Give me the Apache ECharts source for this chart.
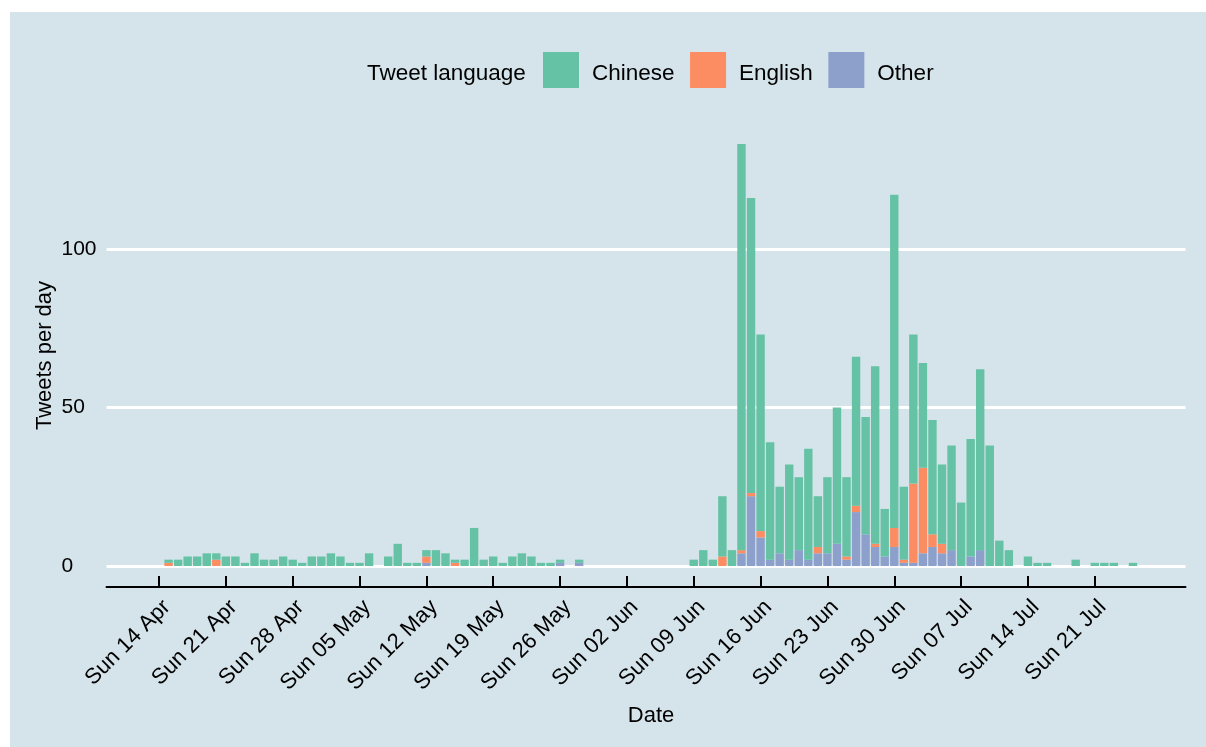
<!DOCTYPE html>
<html>
<head>
<meta charset="utf-8">
<script src="https://cdn.jsdelivr.net/npm/echarts@6/dist/echarts.min.js"></script>
<style>
  html, body { margin: 0; padding: 0; background: #ffffff; }
  #chart { position: absolute; left: 10px; top: 12px; width: 1196px; height: 735px; }
</style>
</head>
<body>
<div id="chart"></div>
<script>
// Daily counts from Sun 14 Apr 2019 (index 0) to Thu 25 Jul 2019 (index 102)
const chinese = [
  0, 1, 2, 3, 3, 4, 2, 3, 3, 1,
  4, 2, 2, 3, 2, 1, 3, 3, 4, 3,
  1, 1, 4, 0, 3, 7, 1, 1, 2, 5,
  4, 1, 2, 12, 2, 3, 1, 3, 4, 3,
  1, 1, 1, 0, 1, 0, 0, 0, 0, 0,
  0, 0, 0, 0, 0, 0, 2, 5, 2, 19,
  5, 128, 93, 62, 37, 21, 30, 23, 35, 16,
  24, 43, 25, 47, 37, 56, 15, 105, 23, 47,
  33, 36, 25, 33, 20, 37, 57, 38, 8, 5,
  0, 3, 1, 1, 0, 0, 2, 0, 1, 1,
  1, 0, 1
];
const english = [
  0, 1, 0, 0, 0, 0, 2, 0, 0, 0,
  0, 0, 0, 0, 0, 0, 0, 0, 0, 0,
  0, 0, 0, 0, 0, 0, 0, 0, 2, 0,
  0, 1, 0, 0, 0, 0, 0, 0, 0, 0,
  0, 0, 0, 0, 0, 0, 0, 0, 0, 0,
  0, 0, 0, 0, 0, 0, 0, 0, 0, 3,
  0, 1, 1, 2, 0, 0, 0, 0, 0, 2,
  0, 0, 1, 2, 0, 1, 0, 6, 1, 25,
  27, 4, 3, 0, 0, 0, 0, 0, 0, 0,
  0, 0, 0, 0, 0, 0, 0, 0, 0, 0,
  0, 0, 0
];
const other = [
  0, 0, 0, 0, 0, 0, 0, 0, 0, 0,
  0, 0, 0, 0, 0, 0, 0, 0, 0, 0,
  0, 0, 0, 0, 0, 0, 0, 0, 1, 0,
  0, 0, 0, 0, 0, 0, 0, 0, 0, 0,
  0, 0, 1, 0, 1, 0, 0, 0, 0, 0,
  0, 0, 0, 0, 0, 0, 0, 0, 0, 0,
  0, 4, 22, 9, 2, 4, 2, 5, 2, 4,
  4, 7, 2, 17, 10, 6, 3, 6, 1, 1,
  4, 6, 4, 5, 0, 3, 5, 0, 0, 0,
  0, 0, 0, 0, 0, 0, 0, 0, 0, 0,
  0, 0, 0
];
const tickLabels = [
  'Sun 14 Apr', 'Sun 21 Apr', 'Sun 28 Apr', 'Sun 05 May', 'Sun 12 May',
  'Sun 19 May', 'Sun 26 May', 'Sun 02 Jun', 'Sun 09 Jun', 'Sun 16 Jun',
  'Sun 23 Jun', 'Sun 30 Jun', 'Sun 07 Jul', 'Sun 14 Jul', 'Sun 21 Jul'
];
const yTicks = [0, 50, 100];
const legendNames = ['Chinese', 'English', 'Other'];

// axis padding (empty days on each side of the data range)
const padBefore = 5, padAfter = 5;
const nDays = chinese.length + padBefore + padAfter;
const start = new Date(Date.UTC(2019, 3, 14 - padBefore));
const categories = [];
for (let i = 0; i < nDays; i++) {
  const d = new Date(start.getTime() + i * 86400000);
  categories.push(d.toISOString().slice(0, 10));
}
function pad(arr) {
  const out = [];
  for (let i = 0; i < padBefore; i++) out.push('-');
  arr.forEach(v => out.push(v === 0 ? '-' : v));
  for (let i = 0; i < padAfter; i++) out.push('-');
  return out;
}
function isTick(index) {
  const d = index - padBefore;
  return d >= 0 && d % 7 === 0 && d / 7 < tickLabels.length;
}

const FONT = "'Liberation Sans', Arial, Helvetica, sans-serif";
const chart = echarts.init(document.getElementById('chart'), null, { renderer: 'canvas' });
chart.setOption({
  backgroundColor: '#d5e4eb',
  animation: false,
  title: {
    text: 'Tweet language',
    left: 357, top: 49, padding: 0,
    textStyle: { fontFamily: FONT, fontSize: 22.5, fontWeight: 'normal', color: '#000', lineHeight: 26 }
  },
  legend: {
    data: legendNames,
    left: 533, top: 40, padding: 0,
    itemWidth: 36, itemHeight: 36, itemGap: 15.5,
    icon: 'rect',
    formatter: '{n|{name}}',
    textStyle: {
      fontFamily: FONT, fontSize: 22.5, color: '#000',
      rich: { n: { fontFamily: FONT, fontSize: 22.5, color: '#000', padding: [8, 0, 0, 8] } }
    }
  },
  grid: { left: 96.5, right: 20.5, top: 111, bottom: 181, containLabel: false },
  xAxis: {
    type: 'category',
    data: categories,
    boundaryGap: true,
    offset: 21,
    name: 'Date',
    nameLocation: 'middle',
    nameGap: 118,
    nameMoveOverlap: false,
    nameTextStyle: { fontFamily: FONT, fontSize: 22, color: '#000', padding: [0, 0, 0, 10] },
    axisLine: { show: true, onZero: false, lineStyle: { color: '#000', width: 2 } },
    axisTick: { show: true, inside: true, length: 11, alignWithLabel: true,
      interval: (i) => isTick(i), lineStyle: { color: '#000', width: 2 } },
    axisLabel: {
      show: true, rotate: 45, margin: 9,
      interval: (i) => isTick(i),
      verticalAlign: 'top', lineHeight: 22,
      fontFamily: FONT, fontSize: 22, color: '#000',
      formatter: (v, i) => tickLabels[(i - padBefore) / 7]
    },
    splitLine: { show: false }
  },
  yAxis: {
    type: 'value',
    min: yTicks[0], max: 139.65, interval: 50,
    name: 'Tweets per day',
    nameLocation: 'middle',
    nameGap: 51,
    nameMoveOverlap: false,
    nameTextStyle: { fontFamily: FONT, fontSize: 22, color: '#000', padding: [0, 22, 0, 0] },
    axisLine: { show: false },
    axisTick: { show: false },
    axisLabel: { align: 'left', margin: 45, fontFamily: FONT, fontSize: 21, color: '#000',
      showMaxLabel: false,
      formatter: (v) => (yTicks.indexOf(v) >= 0 ? String(v) : '') },
    splitLine: { show: true, showMaxLine: false, lineStyle: { color: '#ffffff', width: 3 } }
  },
  series: [
    { name: 'Other', type: 'bar', stack: 'lang', data: pad(other), barWidth: '88%',
      itemStyle: { color: '#8da0cb' } },
    { name: 'English', type: 'bar', stack: 'lang', data: pad(english), barWidth: '88%',
      itemStyle: { color: '#fc8d62' } },
    { name: 'Chinese', type: 'bar', stack: 'lang', data: pad(chinese), barWidth: '88%',
      itemStyle: { color: '#66c2a5' } }
  ]
});
</script>
</body>
</html>
